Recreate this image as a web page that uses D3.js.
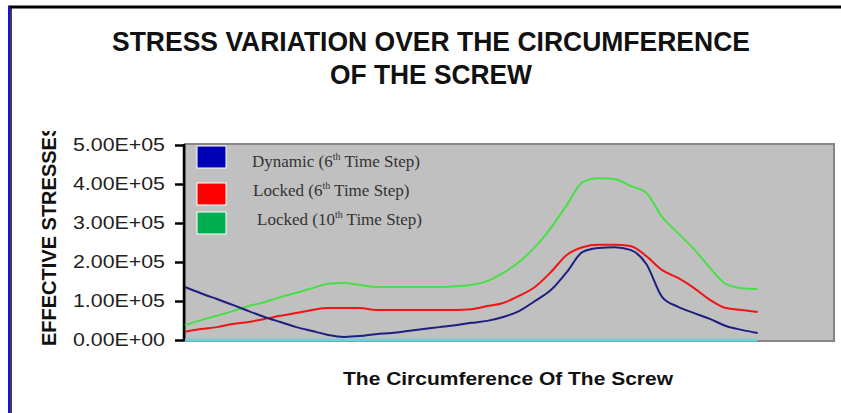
<!DOCTYPE html>
<html>
<head>
<meta charset="utf-8">
<script src="https://cdn.jsdelivr.net/npm/d3@7"></script>
<style>
  body { margin: 0; background: #fff; }
  svg { display: block; }
</style>
</head>
<body>
<script>
// position round the screw, degrees (10 degree steps)
var positions = d3.range(0, 361, 10)

// effective stress, thousands
var dynamic6 = [136, 120, 105, 90, 74, 59, 46, 33, 23, 13, 8, 10, 15, 18, 23, 28, 33, 38, 44,
    49, 59, 74, 100, 128, 174, 226, 236, 238, 231, 195, 110, 85, 69, 54, 36, 26, 18]
var locked6 = [21, 28, 33, 41, 46, 54, 62, 69, 77, 82, 82, 82, 77, 77, 77, 77, 77, 77, 79,
    87, 95, 113, 136, 174, 218, 238, 244, 244, 241, 215, 179, 159, 133, 103, 82, 77, 72]
var locked10 = [38, 51, 62, 74, 87, 97, 110, 121, 133, 144, 146, 141, 136, 136, 136, 136, 136, 138, 141,
    151, 172, 200, 238, 287, 346, 405, 415, 413, 395, 377, 315, 274, 233, 185, 144, 133, 131]
var baseline = positions.map(() => 0)

var yTicks = [0, 100000, 200000, 300000, 400000, 500000]
var legendNames = [['Dynamic (6', 'th', ' Time Step)'],
    ['Locked (6', 'th', ' Time Step)'],
    ['Locked (10', 'th', ' Time Step)']]

var width = 841,
    height = 413
var svg = d3.select('body').append('svg')
    .attr('width', width)
    .attr('height', height)

// page frame
svg.append('rect').attr('x', 0).attr('y', 0).attr('width', width).attr('height', height).attr('fill', '#fff')
svg.append('line').attr('x1', 8).attr('x2', width).attr('y1', 7).attr('y2', 7)
    .attr('stroke', '#000').attr('stroke-width', 3)
svg.append('line').attr('x1', 9).attr('x2', 9).attr('y1', 6).attr('y2', height)
    .attr('stroke', '#1010e0').attr('stroke-width', 2)
svg.append('line').attr('x1', 11).attr('x2', 11).attr('y1', 6).attr('y2', height)
    .attr('stroke', '#000').attr('stroke-width', 1.5)

// title
var title = svg.append('g')
    .attr('font-family', 'Liberation Sans, Arial, sans-serif')
    .attr('font-weight', 'bold')
    .attr('font-size', 28)
    .attr('text-anchor', 'middle')
    .attr('fill', '#111')
title.append('text').attr('x', 431).attr('y', 51)
    .attr('textLength', 638).attr('lengthAdjust', 'spacingAndGlyphs')
    .text('STRESS VARIATION OVER THE CIRCUMFERENCE')
title.append('text').attr('x', 431).attr('y', 84)
    .attr('textLength', 202).attr('lengthAdjust', 'spacingAndGlyphs')
    .text('OF THE SCREW')

var x = d3.scaleLinear().domain([0, 408]).range([185, 834])
var y = d3.scaleLinear().domain([0, 500000]).range([340, 145])

// plot area
svg.append('rect')
    .attr('x', x(0)).attr('y', y(500000) - 1)
    .attr('width', x(408) - x(0)).attr('height', y(0) - y(500000) + 2)
    .attr('fill', '#c0c0c0')
    .attr('stroke', '#858585')
    .attr('stroke-width', 2)

// y axis
var yAxis = d3.axisLeft(y)
    .tickValues(yTicks)
    .tickSize(9)
    .tickPadding(10)
    .tickFormat(d => {
        var exp = d === 0 ? 0 : Math.floor(Math.log10(d))
        var m = d === 0 ? 0 : d / Math.pow(10, exp)
        return m.toFixed(2) + 'E+' + String(exp).padStart(2, '0')
    })
var ga = svg.append('g')
    .attr('transform', 'translate(' + (x(0) - 1) + ',0)')
    .call(yAxis)
ga.select('.domain').attr('stroke', '#000').attr('stroke-width', 2.5)
    .attr('d', 'M0,' + (y(500000) - 1) + 'V' + (y(0) + 1))
ga.selectAll('.tick line').attr('stroke', '#000').attr('stroke-width', 2.5)
ga.selectAll('.tick text')
    .attr('font-family', 'Liberation Sans, Arial, sans-serif')
    .attr('font-size', 18)
    .attr('fill', '#222')
    .attr('textLength', 92)
    .attr('lengthAdjust', 'spacingAndGlyphs')

// y title, clipped at the top as in the original
svg.append('clipPath').attr('id', 'yclip')
    .append('rect').attr('x', 0).attr('y', 131).attr('width', 100).attr('height', 260)
svg.append('g')
    .attr('clip-path', 'url(#yclip)')
    .append('text')
    .attr('transform', 'translate(56,346) rotate(-90)')
    .attr('font-family', 'Liberation Sans, Arial, sans-serif')
    .attr('font-weight', 'bold')
    .attr('font-size', 20)
    .attr('fill', '#111')
    .text('EFFECTIVE STRESSES')

// x title
svg.append('text')
    .attr('x', 508).attr('y', 385)
    .attr('text-anchor', 'middle')
    .attr('font-family', 'Liberation Sans, Arial, sans-serif')
    .attr('font-weight', 'bold')
    .attr('font-size', 18)
    .attr('fill', '#111')
    .attr('textLength', 330).attr('lengthAdjust', 'spacingAndGlyphs')
    .text('The Circumference Of The Screw')

// series
var line = d3.line()
    .x((d, i) => x(positions[i]))
    .y(d => y(d * 1000))
    .curve(d3.curveMonotoneX)

svg.append('path').datum(baseline)
    .attr('d', line).attr('fill', 'none')
    .attr('stroke', '#6fd0d8').attr('stroke-width', 3)

var series = [
    { values: locked10, color: '#46e046' },
    { values: locked6, color: '#f01414' },
    { values: dynamic6, color: '#1e1e80' }
]
svg.selectAll('path.series')
    .data(series).enter()
    .append('path')
    .attr('class', 'series')
    .attr('d', d => line(d.values))
    .attr('fill', 'none')
    .attr('stroke', d => d.color)
    .attr('stroke-width', 2)
    .attr('stroke-linejoin', 'round')

// legend
var swatchColors = ['#0000b4', '#ff0000', '#00b050']
var swatchTop = [146, 183, 212]
var legendX = [252, 253, 257]
var legendBase = [167, 196, 225]
var legend = svg.append('g')
legendNames.forEach((n, i) => {
    legend.append('rect')
        .attr('x', 197).attr('y', swatchTop[i])
        .attr('width', 29).attr('height', 22)
        .attr('fill', swatchColors[i])
        .attr('stroke', '#fff').attr('stroke-width', 1)
    var t = legend.append('text')
        .attr('x', legendX[i]).attr('y', legendBase[i])
        .attr('font-family', 'Liberation Serif, Times New Roman, serif')
        .attr('font-size', 17)
        .attr('fill', '#333')
    t.append('tspan').text(n[0])
    t.append('tspan').attr('font-size', 10).attr('dy', -7).text(n[1])
    t.append('tspan').attr('dy', 7).text(n[2])
})
</script>
</body>
</html>
